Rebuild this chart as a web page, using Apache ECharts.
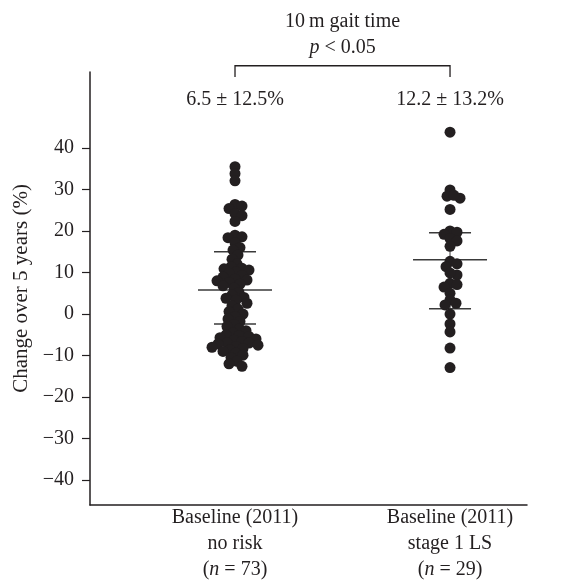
<!DOCTYPE html>
<html>
<head>
<meta charset="utf-8">
<title>10 m gait time</title>
<style>
  html, body { margin: 0; padding: 0; background: #fff; }
  #chart { width: 571px; height: 588px; }
</style>
</head>
<body>
<div id="chart"></div>
<script src="https://cdn.jsdelivr.net/npm/echarts@6/dist/echarts.min.js"></script>
<script>
// group labels / counts / summary text
var groupNames = ['Baseline (2011)\nno risk', 'Baseline (2011)\nstage 1 LS'];
var groupN = [73, 29];
var groupSummary = ['6.5 \u00b1 12.5%', '12.2 \u00b1 13.2%'];

// change over 5 years (%)
var noRisk = [35.5, 33.8, 32.1,
  26.4, 26.0, 25.4, 24.2, 23.7, 22.3,
  19.0, 18.6, 18.4, 17.2, 16.0, 15.4,
  14.2, 13.2, 12.1, 11.4, 11.0, 10.9, 10.6, 10.2, 9.8, 9.3, 8.9, 8.4, 8.2, 8.0, 7.6, 7.2, 6.8, 6.3,
  5.2, 4.6, 4.0, 3.8, 3.3, 2.6, 2.0, 1.2, 0.6, 0.0, -0.6, -1.2, -1.8,
  -2.5, -3.0, -3.6, -4.0, -4.5, -5.0, -5.2, -5.4, -5.7, -6.0, -6.3, -6.6, -6.9, -7.0, -7.2, -7.5,
  -7.8, -8.0, -8.3, -8.6, -9.0, -9.4, -9.9, -10.5,
  -11.4, -12.0, -12.6];
var stage1 = [43.8, 29.9, 28.4, 27.9, 28.6, 25.2, 20.0, 19.7, 19.2, 18.2,
  17.6, 16.3, 12.7, 12.1, 11.4, 9.4, 9.9, 7.4, 7.1, 6.5,
  5.0, 3.4, 2.6, 2.2, 0.0, -2.4, -4.3, -8.2, -12.9];

// horizontal bars (centre line and the two outer lines)
var statMid = [5.8, 13.1];
var statHi = [15.0, 19.6];
var statLo = [-2.4, 1.3];

var yTicks = [-40, -30, -20, -10, 0, 10, 20, 30, 40];

var FONT = '"Liberation Serif", "DejaVu Serif", serif';
var FS = 20;
var INK = '#231f20';

var dom = document.getElementById('chart');
var myChart = echarts.init(dom);

var option = {
  animation: false,
  backgroundColor: '#fff',
  grid: { left: 90, right: 44, top: 72, bottom: 83 },
  xAxis: {
    type: 'value',
    min: 0.3256,
    max: 2.358,
    splitLine: { show: false },
    axisTick: { show: false },
    axisLine: { onZero: false, lineStyle: { color: INK, width: 1.5 } },
    axisLabel: {
      customValues: [1, 2],
      margin: 0,
      color: INK,
      fontFamily: FONT,
      fontSize: FS,
      lineHeight: 26,
      formatter: function (v) {
        var i = Math.round(v) - 1;
        return groupNames[i] + '\n({it|n} = ' + groupN[i] + ')';
      },
      rich: {
        it: { fontStyle: 'italic', fontFamily: FONT, fontSize: FS, lineHeight: 26, color: INK }
      }
    }
  },
  yAxis: {
    type: 'value',
    min: -46,
    max: 58.3,
    name: 'Change over 5 years (%)',
    nameLocation: 'middle',
    nameGap: 52,
    nameTextStyle: { fontFamily: FONT, fontSize: 21, color: INK },
    splitLine: { show: false },
    axisLine: { show: true, lineStyle: { color: INK, width: 1.5 } },
    axisTick: { show: true, customValues: yTicks, length: 8, lineStyle: { color: INK, width: 1.2 } },
    axisLabel: {
      customValues: yTicks, margin: 16, color: INK, fontFamily: FONT, fontSize: FS,
      formatter: function (v) { return String(v).replace('-', '\u2212'); }
    }
  },
  series: []
};
myChart.setOption(option);

// beeswarm: push dots sideways until they stop overlapping too much
function swarmOffsets(values, pxPerUnit, dist) {
  var order = values.map(function (v, i) { return i; });
  order.sort(function (a, b) { return values[b] - values[a]; });
  var placed = [], out = [];
  order.forEach(function (i) {
    var y = values[i] * pxPerUnit;
    var k = 0, x = 0;
    while (true) {
      x = (k % 2 ? 1 : -1) * Math.ceil(k / 2);
      var ok = placed.every(function (p) {
        return (p.x - x) * (p.x - x) + (p.y - y) * (p.y - y) >= dist * dist;
      });
      if (ok) break;
      k++;
    }
    placed.push({ x: x, y: y });
    out[i] = x;
  });
  return out;
}

var p0 = myChart.convertToPixel({ gridIndex: 0 }, [1, 0]);
var p1 = myChart.convertToPixel({ gridIndex: 0 }, [2, 10]);
var xPx = p1[0] - p0[0];
var yPx = (p0[1] - p1[1]) / 10;

function dots(values, gx) {
  var off = swarmOffsets(values, yPx, 6.5);
  return values.map(function (v, i) { return [gx + off[i] / xPx, v]; });
}

var barData = [0, 1].map(function (i) {
  return [i + 1, statLo[i], statMid[i], statHi[i]];
});

myChart.setOption({
  series: [
    {
      type: 'custom',
      z: 1,
      data: barData,
      renderItem: function (params, api) {
        var gx = api.value(0);
        var lo = api.coord([gx, api.value(1)]);
        var mid = api.coord([gx, api.value(2)]);
        var hi = api.coord([gx, api.value(3)]);
        var st = { stroke: '#3a3a3a', lineWidth: 1.5 };
        return {
          type: 'group',
          children: [
            { type: 'line', shape: { x1: lo[0], y1: lo[1], x2: hi[0], y2: hi[1] }, style: { stroke: '#3a3a3a', lineWidth: 1 } },
            { type: 'line', shape: { x1: mid[0] - 37, y1: mid[1], x2: mid[0] + 37, y2: mid[1] }, style: st },
            { type: 'line', shape: { x1: hi[0] - 21, y1: hi[1], x2: hi[0] + 21, y2: hi[1] }, style: st },
            { type: 'line', shape: { x1: lo[0] - 21, y1: lo[1], x2: lo[0] + 21, y2: lo[1] }, style: st }
          ]
        };
      }
    },
    {
      type: 'scatter',
      z: 2,
      symbolSize: 11,
      itemStyle: { color: INK, opacity: 1 },
      data: dots(noRisk, 1)
    },
    {
      type: 'scatter',
      z: 2,
      symbolSize: 11,
      itemStyle: { color: INK, opacity: 1 },
      data: dots(stage1, 2)
    }
  ]
});

// bracket and texts above the plot, placed through the axes
var bracketTop = 59.8, bracketFoot = 57.1;
var titleY = 70.4, pY = 64.1, summaryY = 51.6;
var a1 = myChart.convertToPixel({ gridIndex: 0 }, [1, bracketTop]);
var a2 = myChart.convertToPixel({ gridIndex: 0 }, [2, bracketTop]);
var f1 = myChart.convertToPixel({ gridIndex: 0 }, [1, bracketFoot]);
var midX = (a1[0] + a2[0]) / 2;
var tY = myChart.convertToPixel({ gridIndex: 0 }, [1, titleY])[1];
var pYpx = myChart.convertToPixel({ gridIndex: 0 }, [1, pY])[1];
var sY = myChart.convertToPixel({ gridIndex: 0 }, [1, summaryY])[1];

var textStyle = function (txt, x, y) {
  return {
    type: 'text',
    style: {
      text: txt, x: x, y: y,
      fontFamily: FONT, fontSize: FS, fill: INK,
      align: 'center', verticalAlign: 'middle',
      rich: { it: { fontStyle: 'italic', fontFamily: FONT, fontSize: FS, fill: INK } }
    }
  };
};

myChart.setOption({
  graphic: [
    {
      type: 'polyline',
      shape: { points: [[a1[0], f1[1]], [a1[0], a1[1]], [a2[0], a2[1]], [a2[0], f1[1]]] },
      style: { stroke: INK, lineWidth: 1.3, fill: null }
    },
    textStyle('10\u2009m gait time', midX, tY),
    textStyle('{it|p} < 0.05', midX, pYpx),
    textStyle(groupSummary[0], a1[0], sY),
    textStyle(groupSummary[1], a2[0], sY)
  ]
});
</script>
</body>
</html>
